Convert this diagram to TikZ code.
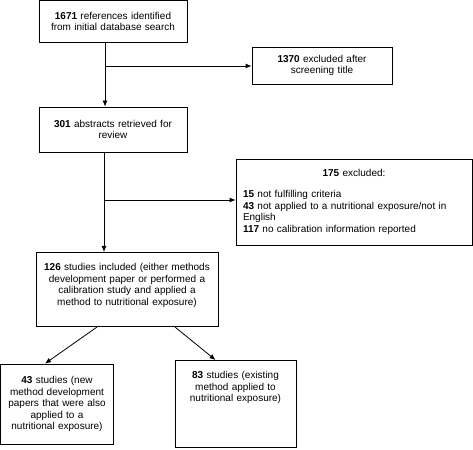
\documentclass[tikz,border=0pt]{standalone}
\usepackage{fontspec}
\setmainfont{Liberation Sans}
\usepackage{tikz}
\usetikzlibrary{arrows.meta}

\tikzset{
  box/.style={draw, line width=0.8pt, align=center, inner xsep=4pt,
    font=\fontsize{10}{11.5}\selectfont},
  topbox/.style={box, inner ysep=11pt},
  arr/.style={line width=0.8pt, ->, >={Latex[length=6pt,width=5pt]}}
}

\begin{document}
\begin{tikzpicture}[x=1pt,y=-1pt]
\useasboundingbox (0,0) rectangle (473,449);
\node[box, text width=140pt, minimum height=42pt] (refs) at (113,21.5)
  {\textbf{1671} references identified\\from initial database search};
\node[box, text width=132pt, minimum height=37pt] (title) at (322,65.5)
  {\textbf{1370} excluded after\\screening title};
\node[box, text width=140pt, minimum height=45pt] (abstr) at (113,129.5)
  {\textbf{301} abstracts retrieved for\\review};
\node[box, align=left, inner xsep=7pt, text width=222pt, minimum height=86pt] (excl) at (354,202)
  {\makebox[\linewidth]{\textbf{175} excluded:}\\[9.5pt]
   \textbf{15} not fulfilling criteria\\
   \textbf{43} not applied to a nutritional exposure/not in\\English\\
   \textbf{117} no calibration information reported};
\node[topbox, text width=174pt, text depth=45pt] (incl) at (127,289.5)
  {\textbf{126} studies included (either methods\\development paper or performed a\\calibration study and applied a\\method to nutritional exposure)};
\node[box, text width=105pt, minimum height=80pt] (newm) at (57,404)
  {\textbf{43} studies (new\\method development\\papers that were also\\applied to a\\nutritional exposure)};
\node[topbox, text width=113pt, text depth=58pt] (exist) at (235.5,404)
  {\textbf{83} studies (existing\\method applied to\\nutritional exposure)};

\coordinate (j1) at (105,66);
\coordinate (j2) at (104,200);
\draw[arr] (refs.south -| j1) -- (abstr.north -| j1);
\draw[arr] (j1) -- (j1 -| title.west);
\draw[arr] (abstr.south -| j2) -- (incl.north -| j2);
\draw[arr] (j2) -- (j2 -| excl.west);
\draw[arr] ([xshift=-30pt]incl.south) -- ([xshift=-12pt]newm.north);
\draw[arr] ([xshift=48pt]incl.south) -- ([xshift=-20pt]exist.north);
\end{tikzpicture}
\end{document}
